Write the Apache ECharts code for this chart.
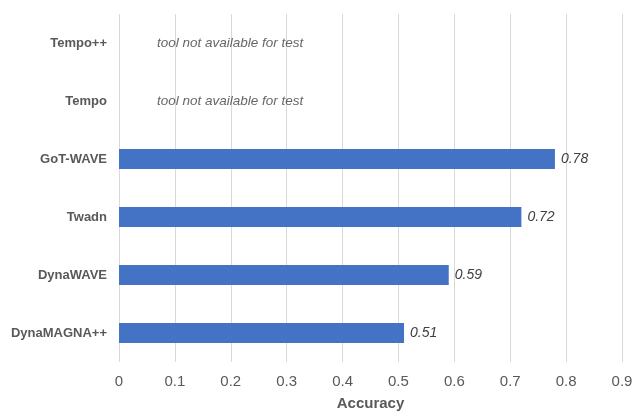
<!DOCTYPE html>
<html><head><meta charset="utf-8">
<script src="https://cdn.jsdelivr.net/npm/echarts@6/dist/echarts.min.js"></script>
<style>html,body{margin:0;padding:0;background:#fff}#c{width:632px;height:411px}</style>
</head><body><div id="c"></div>
<script>
const categories = ['DynaMAGNA++', 'DynaWAVE', 'Twadn', 'GoT-WAVE', 'Tempo', 'Tempo++'];
const accuracy = [0.51, 0.59, 0.72, 0.78, null, null];
const notes = [null, null, null, null, 'tool not available for test', 'tool not available for test'];
const noteX = 0.068;
const xTicks = [0, 0.1, 0.2, 0.3, 0.4, 0.5, 0.6, 0.7, 0.8, 0.9];

const chart = echarts.init(document.getElementById('c'));
const noteData = [];
notes.forEach((n, i) => { if (n) noteData.push({ value: [noteX, categories[i]], note: n }); });

chart.setOption({
  animation: false,
  grid: { left: 119, right: 10, top: 14, bottom: 49, containLabel: false, outerBoundsMode: 'none' },
  xAxis: {
    type: 'value', min: xTicks[0], max: xTicks[xTicks.length - 1], interval: 0.1,
    axisLine: { show: false }, axisTick: { show: false },
    splitLine: { lineStyle: { color: '#d9d9d9', width: 1 } },
    axisLabel: { color: '#595959', fontSize: 15, fontFamily: 'Liberation Sans', margin: 12,
      formatter: v => String(Math.round(v * 10) / 10) },
    name: 'Accuracy', nameLocation: 'middle', nameGap: 34,
    nameTextStyle: { color: '#595959', fontSize: 15, fontWeight: 'bold', fontFamily: 'Liberation Sans' }
  },
  yAxis: {
    type: 'category', data: categories,
    axisLine: { show: false }, axisTick: { show: false },
    axisLabel: { color: '#595959', fontSize: 13, fontWeight: 'bold', fontFamily: 'Liberation Sans', margin: 12 }
  },
  series: [
    {
      type: 'bar', data: accuracy, barWidth: 20,
      itemStyle: { color: '#4472c4' },
      label: { show: true, position: 'right', distance: 6, color: '#404040', fontSize: 14,
        fontStyle: 'italic', fontFamily: 'Liberation Sans', formatter: p => p.value == null ? '' : String(p.value) }
    },
    {
      type: 'scatter', data: noteData, symbolSize: 0, silent: true,
      label: { show: true, position: 'right', distance: 0, color: '#404040', fontSize: 13.5,
        fontStyle: 'italic', fontFamily: 'Liberation Sans', formatter: p => p.data.note }
    }
  ]
});
</script></body></html>
